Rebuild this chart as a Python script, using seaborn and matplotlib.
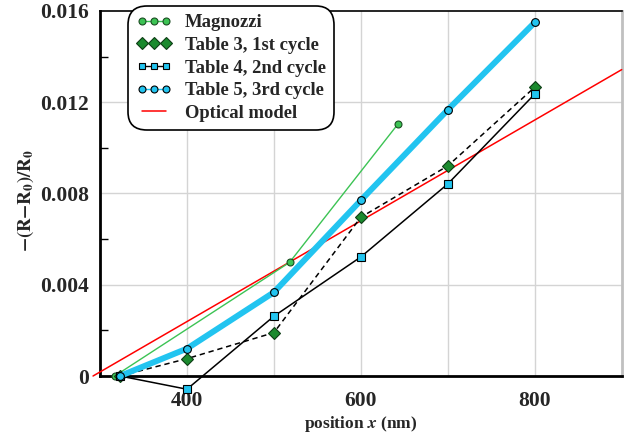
import numpy as np
import pandas as pd
import matplotlib
matplotlib.use("Agg")
import matplotlib.pyplot as plt
from matplotlib.lines import Line2D
from matplotlib.ticker import FixedLocator
import seaborn as sns

# ---- data -------------------------------------------------------------
magnozzi_x = [317, 518, 643]
magnozzi_y = [0.0, 0.00498, 0.01106]

cycle1_x = [323, 400, 500, 600, 700, 800]
cycle1_y = [0.0, 0.00076, 0.0019, 0.00696, 0.00921, 0.01266]

cycle2_x = [323, 400, 500, 600, 700, 800]
cycle2_y = [0.0, -0.00058, 0.00262, 0.00522, 0.00842, 0.01236]

cycle3_x = [323, 400, 500, 600, 700, 800]
cycle3_y = [0.0, 0.0012, 0.00367, 0.0077, 0.01167, 0.0155]

optical_x = [292, 900]
optical_y = [0.0, 0.01343]

series_names = ["Magnozzi", "Table 3, 1st cycle", "Table 4, 2nd cycle",
                "Table 5, 3rd cycle", "Optical model"]

x_ticks = [400, 500, 600, 700, 800]
x_tick_labels = ["400", "", "600", "", "800"]
y_ticks = [0.0, 0.004, 0.008, 0.012, 0.016]
y_tick_labels = ["0", "0.004", "0.008", "0.012", "0.016"]

# ---- style ------------------------------------------------------------
sns.set_theme(style="white")
plt.rcParams["font.family"] = ["Liberation Serif", "DejaVu Serif"]
plt.rcParams["font.weight"] = "bold"
plt.rcParams["mathtext.fontset"] = "stix"

GREEN = "#3cc354"
DKGREEN = "#1b8a2e"
CYAN = "#22c4f0"

fig = plt.figure(figsize=(6.29, 4.38), dpi=100)
ax = fig.add_axes([100 / 629, 1 - 376 / 438, 521.7 / 629, 365 / 438])

# grid
ax.set_axisbelow(True)
for xv in x_ticks:
    ax.axvline(xv, color="#d4d4d4", lw=1.0, zorder=0)
for yv in y_ticks[1:-1]:
    ax.axhline(yv, color="#d4d4d4", lw=1.0, zorder=0)

# optical model
sns.lineplot(x=optical_x, y=optical_y, ax=ax, color="red", lw=1.1,
             clip_on=False, zorder=3, legend=False)

# Magnozzi
sns.lineplot(x=magnozzi_x, y=magnozzi_y, ax=ax, color=GREEN, lw=1.0,
             marker="o", markersize=5.0, markerfacecolor=GREEN,
             markeredgecolor="#1a4d22", markeredgewidth=0.8,
             clip_on=False, zorder=4, legend=False)

# first cycle
sns.lineplot(x=cycle1_x, y=cycle1_y, ax=ax, color="black", lw=1.1,
             linestyle=(0, (3.5, 2.5)), marker="D", markersize=5.8,
             markerfacecolor=DKGREEN, markeredgecolor="#0d3d15",
             markeredgewidth=0.8, clip_on=False, zorder=5, legend=False)

# second cycle
sns.lineplot(x=cycle2_x, y=cycle2_y, ax=ax, color="black", lw=1.1,
             marker="s", markersize=5.3, markerfacecolor=CYAN,
             markeredgecolor="black", markeredgewidth=0.8,
             clip_on=False, zorder=6, legend=False)

# third cycle
sns.lineplot(x=cycle3_x, y=cycle3_y, ax=ax, color=CYAN, lw=4.3,
             marker="o", markersize=5.6, markerfacecolor=CYAN,
             markeredgecolor="black", markeredgewidth=0.8,
             clip_on=False, zorder=7, legend=False)

# axes limits & ticks
ax.set_xlim(300, 900)
ax.set_ylim(0, 0.016)
ax.xaxis.set_major_locator(FixedLocator(x_ticks))
ax.set_xticklabels(x_tick_labels)
ax.yaxis.set_major_locator(FixedLocator(y_ticks))
ax.set_yticklabels(y_tick_labels)
ax.yaxis.set_minor_locator(FixedLocator([0.002, 0.006, 0.010, 0.014]))
ax.tick_params(axis="both", which="major", direction="in", length=8,
               width=2, color="#b8b8b8", labelsize=15.5)
ax.tick_params(axis="y", which="major", pad=8)
ax.tick_params(axis="x", which="major", pad=11)
ax.tick_params(axis="y", which="minor", direction="in", length=6,
               width=1, color="black", left=True)
for lab in ax.get_xticklabels() + ax.get_yticklabels():
    lab.set_fontweight("bold")

# spines
ax.spines["left"].set_color("black")
ax.spines["left"].set_linewidth(2.0)
ax.spines["bottom"].set_color("black")
ax.spines["bottom"].set_linewidth(2.0)
ax.spines["top"].set_color("black")
ax.spines["top"].set_linewidth(1.2)
ax.spines["right"].set_color("#c0c0c0")
ax.spines["right"].set_linewidth(2.0)
for sp in ax.spines.values():
    sp.set_visible(True)

ax.set_xlabel(r"position $\mathbfit{x}$ (nm)", fontsize=12.5,
              fontweight="bold", labelpad=2)
ax.set_ylabel(r"$\mathbf{-(R{-}R_0)/R_0}$", fontsize=13.5, labelpad=3)
ax.yaxis.label.set_y(0.48)

# legend
handles = [
    Line2D([], [], color=GREEN, lw=1.0, marker="o", markersize=5.0,
           markerfacecolor=GREEN, markeredgecolor="#1a4d22", markeredgewidth=0.8),
    Line2D([], [], color="black", lw=0, marker="D", markersize=5.8,
           markerfacecolor=DKGREEN, markeredgecolor="#0d3d15", markeredgewidth=0.8),
    Line2D([], [], color="black", lw=1.0, marker="s", markersize=5.0,
           markerfacecolor=CYAN, markeredgecolor="black", markeredgewidth=0.8),
    Line2D([], [], color=CYAN, lw=1.0, marker="o", markersize=5.0,
           markerfacecolor=CYAN, markeredgecolor="black", markeredgewidth=0.8),
    Line2D([], [], color="red", lw=1.1),
]
leg = ax.legend(handles, series_names, loc="upper left",
                bbox_to_anchor=(0.054, 1.014), borderaxespad=0,
                numpoints=3, handlelength=1.9, handletextpad=0.7,
                labelspacing=0.3, borderpad=0.45,
                prop={"weight": "bold", "size": 13.4},
                fancybox=True, framealpha=1, edgecolor="black")
leg.get_frame().set_linewidth(1.2)
leg.get_frame().set_boxstyle("round", pad=0.0, rounding_size=1.0)
leg.set_zorder(10)

fig.savefig("out.png", dpi=100)
